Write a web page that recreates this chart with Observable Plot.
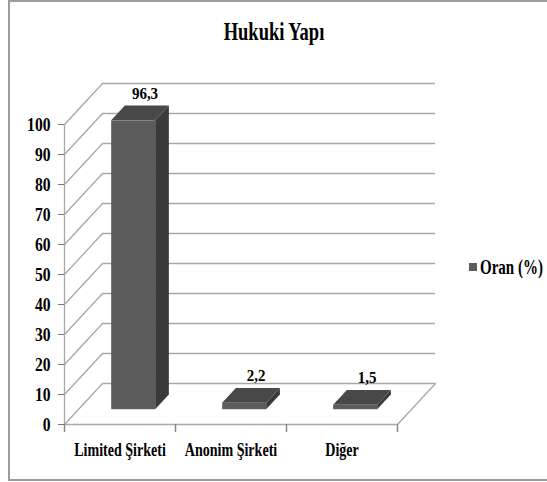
<!DOCTYPE html>
<html>
<head>
<meta charset="utf-8">
<script src="https://cdn.jsdelivr.net/npm/d3@7"></script>
<script src="https://cdn.jsdelivr.net/npm/@observablehq/plot@0.6"></script>
<style>
  body { margin: 0; background: #fff; }
  #wrap { position: relative; width: 547px; height: 482px; overflow: hidden;
          font-family: 'Liberation Serif', serif; }
  #chart { position: absolute; left: 0; top: 0; }
  #chart svg, #chart svg text { font-family: 'Liberation Serif', serif !important; }
  #title { position: absolute; left: 0; top: 17px; width: 547px; text-align: center;
           font-weight: bold; font-size: 25px; line-height: 30px; }
  #title span { display: inline-block; transform: scaleX(0.74); }
  #legend { position: absolute; left: 469px; top: 254px; font-weight: bold; font-size: 20px;
            line-height: 26px; white-space: nowrap; }
  #legend .sw { position: absolute; left: 0; top: 9px; width: 8px; height: 8px; background: #5c5c5c; }
  #legend .lt { position: absolute; left: 11px; top: 0; transform: scaleX(0.75); transform-origin: 0 50%; }
  #frame { position: absolute; left: 8px; top: 0; width: 600px; height: 481px;
           border: 2px solid #9c9c9c; box-sizing: border-box; pointer-events: none; }
</style>
</head>
<body>
<div id="wrap">
  <div id="title"><span></span></div>
  <div id="chart"></div>
  <div id="legend"><span class="sw"></span><span class="lt"></span></div>
  <div id="frame"></div>
</div>
<script>
// ---- data ----
const titleText = "Hukuki Yapı";
const seriesName = "Oran (%)";
const categories = ["Limited Şirketi", "Anonim Şirketi", "Diğer"];
const values = [96.3, 2.2, 1.5];
const yTicks = [0, 10, 20, 30, 40, 50, 60, 70, 80, 90, 100];

const data = categories.map((c, i) => ({cat: c, val: values[i], label: String(values[i]).replace(".", ",")}));

// ---- layout / style ----
const FONT = "'Liberation Serif', serif";
const W = 547, H = 482, ML = 64, MR = 150, MT = 124, MB = 58;
const BW = (W - ML - MR) / categories.length;   // band width
const DEPTH_X = 38, DEPTH_Y = -41;               // back wall offset
const F0 = 0.36, F1 = 0.72;                      // bar front/back depth fractions
const FX = DEPTH_X * F0, FY = DEPTH_Y * F0;
const BX = DEPTH_X * (F1 - F0), BY = DEPTH_Y * (F1 - F0);
const INSET = 33.5;
const GRID = "#a8a8a8";
const FRONT = "#5c5c5c", TOP = "#484848", SIDE = "#3a3a3a";
const DIAG_LEN = Math.hypot(DEPTH_X, DEPTH_Y);
const DIAG_ROT = Math.atan2(DEPTH_X, -DEPTH_Y) * 180 / Math.PI;

document.querySelector("#title span").textContent = titleText;
document.querySelector("#legend .lt").textContent = seriesName;

// top & side faces of the 3D bars, positioned with Plot's own scales
function barFaces(index, scales) {
  const x = scales.x, y = scales.y;
  const bw = typeof x.bandwidth === "function" ? x.bandwidth() : BW;
  const g = d3.create("svg:g").attr("aria-label", "bar faces");
  data.forEach(d => {
    const x0 = x(d.cat) + INSET + FX, x1 = x(d.cat) + bw - INSET + FX;
    const yt = y(d.val) + FY, yb = y(0) + FY;
    g.append("path")
      .attr("d", `M${x1},${yt}L${x1 + BX},${yt + BY}L${x1 + BX},${yb + BY}L${x1},${yb}Z`)
      .attr("fill", SIDE);
    g.append("path")
      .attr("d", `M${x0},${yt}L${x1},${yt}L${x1 + BX},${yt + BY}L${x0 + BX},${yt + BY}Z`)
      .attr("fill", TOP);
  });
  return g.node();
}

const svg = Plot.plot({
  width: W, height: H,
  marginLeft: ML, marginRight: MR, marginTop: MT, marginBottom: MB,
  x: {domain: categories, padding: 0},
  y: {domain: [0, 100]},
  style: {background: "transparent", fontFamily: FONT, overflow: "visible"},
  marks: [
    // back wall gridlines
    Plot.ruleY(yTicks, {y: d => d, dx: DEPTH_X, dy: DEPTH_Y, stroke: GRID, strokeWidth: 1.3}),
    // side wall diagonals
    Plot.vector(yTicks, {x: () => categories[0], y: d => d, dx: -BW / 2, length: DIAG_LEN, rotate: DIAG_ROT,
      anchor: "start", r: 0, stroke: GRID, strokeWidth: 1.3}),
    // floor right edge
    Plot.vector([0], {x: () => categories[categories.length - 1], y: d => d, dx: BW / 2, length: DIAG_LEN,
      rotate: DIAG_ROT, anchor: "start", r: 0, stroke: GRID, strokeWidth: 1.3}),
    // front axes
    Plot.ruleY([0], {stroke: GRID, strokeWidth: 1.3}),
    Plot.ruleX([categories[0]], {dx: -BW / 2, stroke: GRID, strokeWidth: 1.3}),
    // x ticks at category boundaries
    Plot.vector(categories, {x: d => d, y: () => 0, dx: -BW / 2, length: 7, rotate: 180, anchor: "start", r: 0,
      stroke: "#888"}),
    Plot.vector([categories[categories.length - 1]], {x: d => d, y: () => 0, dx: BW / 2, length: 7, rotate: 180,
      anchor: "start", r: 0, stroke: "#888"}),
    // bars
    barFaces,
    Plot.barY(data, {x: "cat", y: "val", dx: FX, dy: FY, insetLeft: INSET, insetRight: INSET, fill: FRONT}),
    // value labels
    Plot.text(data, {x: "cat", y: "val", text: "label", dx: 25, dy: -42, fontSize: 17, fontWeight: "bold",
      fill: "#000", fontFamily: FONT}),
    // axes
    Plot.axisY(yTicks, {tickSize: 6, tickPadding: 8, stroke: "#777", fill: "#000", fontSize: 19,
      fontWeight: "bold", fontFamily: FONT, label: null}),
    Plot.axisX({tickSize: 0, tickPadding: 19, fill: "#000", fontSize: 18, fontWeight: "bold",
      fontFamily: FONT, label: null})
  ]
});

document.getElementById("chart").append(svg);

// condense text horizontally like the reference
function squeeze(sel, k) {
  svg.querySelectorAll(sel).forEach(t => {
    const len = t.getComputedTextLength();
    if (len > 0) {
      t.setAttribute("textLength", (len * k).toFixed(1));
      t.setAttribute("lengthAdjust", "spacingAndGlyphs");
    }
  });
}
squeeze('g[aria-label="y-axis tick label"] text', 0.82);
squeeze('g[aria-label="x-axis tick label"] text', 0.78);
squeeze('g[aria-label="text"] text', 0.88);
</script>
</body>
</html>
